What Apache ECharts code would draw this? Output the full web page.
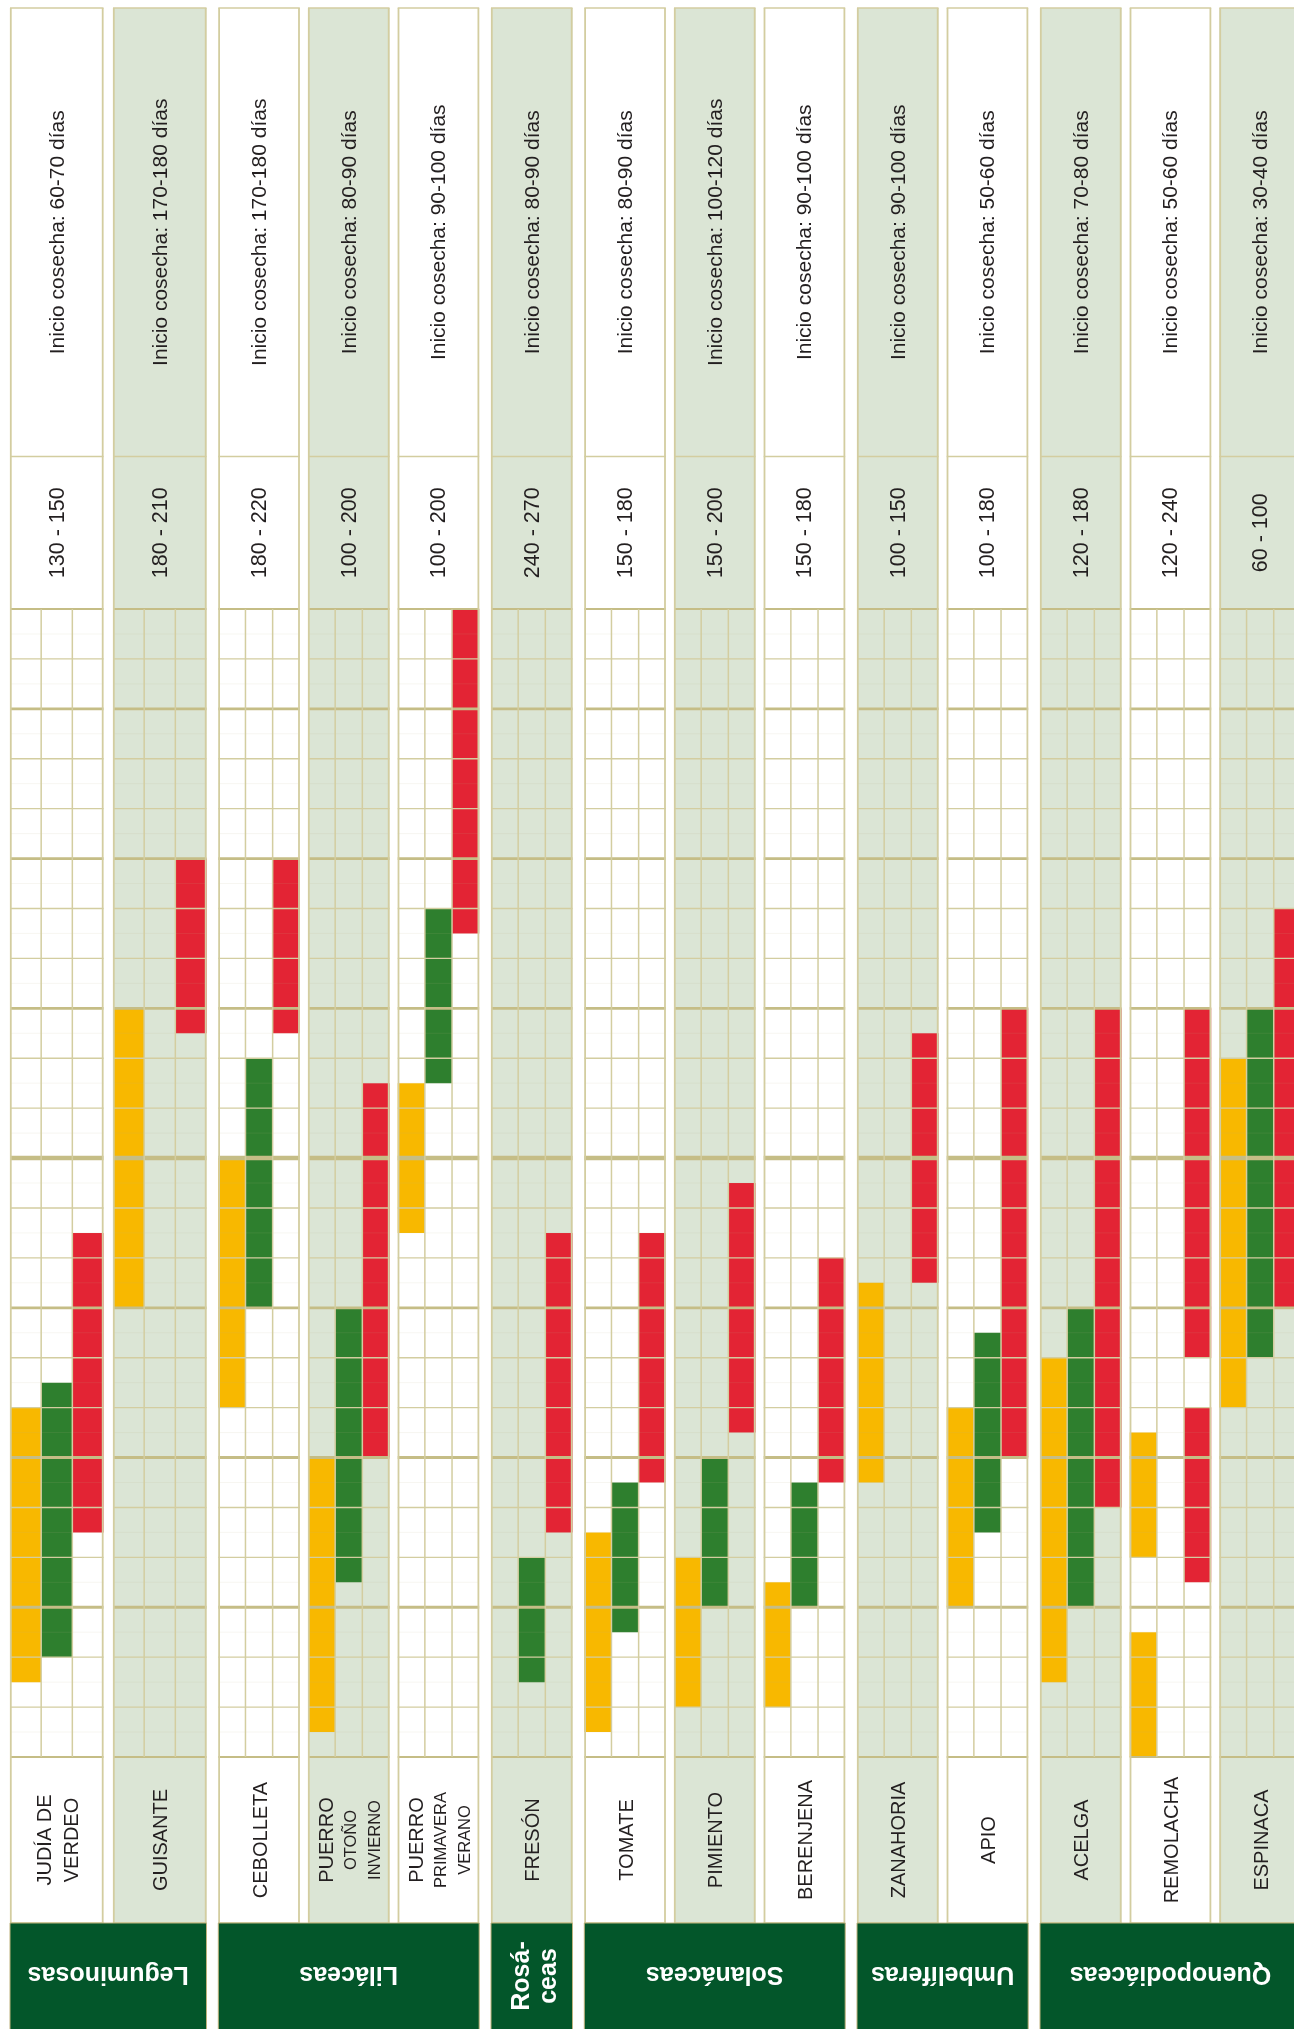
<!DOCTYPE html>
<html><head><meta charset="utf-8">
<script src="https://cdn.jsdelivr.net/npm/echarts@6/dist/echarts.min.js"></script>
<style>html,body{margin:0;padding:0;background:#fff}#c{width:1294px;height:2029px}</style>
</head><body><div id="c"></div>
<script>
// ---------- DATA ----------
const crops = ['JUDÍA DE\nVERDEO','GUISANTE','CEBOLLETA','PUERRO','PUERRO','FRESÓN','TOMATE','PIMIENTO','BERENJENA','ZANAHORIA','APIO','ACELGA','REMOLACHA','ESPINACA'];
const cropSubLines = ['','','','OTOÑO\nINVIERNO','PRIMAVERA\nVERANO','','','','','','','','',''];
const families = ['Leguminosas','Liláceas','Rosá-\nceas','Solanáceas','Umbelíferas','Quenopodiáceas'];
const cropFamily = [0,0,1,1,1,2,3,3,3,4,4,5,5,5];
const cycleDays = ['130 - 150','180 - 210','180 - 220','100 - 200','100 - 200','240 - 270','150 - 180','150 - 200','150 - 180','100 - 150','100 - 180','120 - 180','120 - 240','60 - 100'];
const harvestStart = ['60-70','170-180','170-180','80-90','90-100','80-90','80-90','100-120','90-100','90-100','50-60','70-80','50-60','30-40'];
// time axis: rows (10-day periods) counted from the bottom of the grid; 23 rows
const timeRows = 23;
// [cropIndex, startRow, endRow]
const sowing = [[0,1.5,7],[1,9,15],[2,7,12],[3,0.5,6],[4,10.5,13.5],[6,0.5,4.5],[7,1,4],[8,1,3.5],[9,5.5,9.5],[10,3,7],[11,1.5,8],[12,4,6.5],[12,0,2.5],[13,7,14]];
const transplant = [[0,2,7.5],[2,9,14],[3,3.5,9],[4,13.5,17],[5,1.5,4],[6,2.5,5.5],[7,3,6],[8,3,5.5],[10,4.5,8.5],[11,3,9],[13,8,15]];
const harvest = [[0,4.5,10.5],[1,14.5,18],[2,14.5,18],[3,6,13.5],[4,16.5,23],[5,4.5,10.5],[6,5.5,10.5],[7,6.5,11.5],[8,5.5,10],[9,9.5,14.5],[10,6,15],[11,5,15],[12,8,15],[12,3.5,7],[13,9,17]];

// ---------- LAYOUT / STYLE ----------
const W_LEG = 93.5, W_STD = 81.5, GAP_LEG = 9.5, GAP_IN = 8.2, GAP_FAM = 11.8, X0 = 10;
const cols = [];
(function(){ let x = X0; for (let i=0;i<crops.length;i++){ const w = cropFamily[i]===0?W_LEG:W_STD; cols.push([x,w]);
  if (i<crops.length-1){ x += w + (cropFamily[i+1]===cropFamily[i] ? (cropFamily[i]===0?GAP_LEG:GAP_IN) : GAP_FAM); } } })();
const HEAD_TOP = 8, DUR_TOP = 456.5, NAME_BOTTOM = 1923, FAM_BOTTOM = 2040;
const BG = ['#ffffff','#dbe5d5'];
const LINE = '#d3cda0', LINE_DARK = '#c5bd86', TXT = '#231f20', DARKG = '#03562a';
const FONT = '"Liberation Sans", Arial, sans-serif';

// use a narrow face for the upper-case crop names when it is installed
function hasFont(name){
  const c = document.createElement('canvas').getContext('2d');
  const s = 'GUISANTE REMOLACHA mmmiii';
  c.font = '40px monospace'; const a = c.measureText(s).width;
  c.font = '40px "'+name+'", monospace'; const b = c.measureText(s).width;
  return Math.abs(a-b) > 1;
}
const NARROW = hasFont('Liberation Sans Narrow');
const NAME_FONT = NARROW ? '"Liberation Sans Narrow", sans-serif' : FONT;
const NAME_SIZE = NARROW ? 23.5 : 20, SUB_SIZE = NARROW ? 19.5 : 16.5;

const chart = echarts.init(document.getElementById('c'), null, {renderer:'canvas', width:1294, height:2029});

function xPix(api, x){ return api.coord([x, 0])[0]; }

function bgItem(params, api){
  const i = api.value(0); const [lx,w] = cols[i];
  const x1 = xPix(api,lx), x2 = xPix(api,lx+w);
  return {type:'rect', shape:{x:x1, y:HEAD_TOP, width:x2-x1, height:NAME_BOTTOM-HEAD_TOP}, style:{fill:BG[i%2]}};
}

function barMaker(sub, color){
  return function(params, api){
    const i = api.value(0), s = api.value(1), e = api.value(2);
    const [lx,w] = cols[i];
    const p1 = api.coord([lx + sub*w/3, e]);
    const p2 = api.coord([lx + (sub+1)*w/3, s]);
    return {type:'rect', shape:{x:p1[0], y:p1[1], width:p2[0]-p1[0], height:p2[1]-p1[1]}, style:{fill:color}};
  };
}

function gridItem(params, api){
  const i = api.value(0); const [lx,w] = cols[i];
  const x1 = xPix(api,lx), x2 = xPix(api,lx+w);
  const yTop = api.coord([lx, timeRows])[1], yBot = api.coord([lx, 0])[1];
  const ch = [];
  for (let r=0;r<timeRows;r++){
    const y = api.coord([lx, r+0.5])[1];
    ch.push({type:'line', shape:{x1:x1,y1:y,x2:x2,y2:y}, style:{stroke:'rgba(190,184,140,0.12)', lineWidth:1}});
  }
  for (let r=0;r<=timeRows;r++){
    const y = api.coord([lx, r])[1];
    let lw = 1.4, c = LINE;
    if (r%3===0 && r>0 && r<timeRows){ lw = 2.8; c = LINE_DARK; }
    if (r===12){ lw = 4.5; }
    if (r===0 || r===timeRows){ lw = 2.2; c = LINE_DARK; }
    ch.push({type:'line', shape:{x1:x1,y1:y,x2:x2,y2:y}, style:{stroke:c, lineWidth:lw}});
  }
  for (let k=1;k<3;k++){
    const x = xPix(api, lx + k*w/3);
    ch.push({type:'line', shape:{x1:x,y1:yTop,x2:x,y2:yBot}, style:{stroke:LINE, lineWidth:1.5}});
  }
  [HEAD_TOP, DUR_TOP, NAME_BOTTOM].forEach(y=>ch.push({type:'line', shape:{x1:x1,y1:y,x2:x2,y2:y}, style:{stroke:LINE, lineWidth:1.6}}));
  ch.push({type:'line', shape:{x1:x1+0.8,y1:HEAD_TOP,x2:x1+0.8,y2:NAME_BOTTOM}, style:{stroke:LINE, lineWidth:1.8}});
  ch.push({type:'line', shape:{x1:x2-0.8,y1:HEAD_TOP,x2:x2-0.8,y2:NAME_BOTTOM}, style:{stroke:LINE, lineWidth:1.8}});
  return {type:'group', children:ch};
}

function textItem(params, api){
  const i = api.value(0); const [lx,w] = cols[i];
  const cx = xPix(api, lx + w/2);
  const yTop = api.coord([lx, timeRows])[1], yBot = api.coord([lx, 0])[1];
  const ch = [];
  ch.push({type:'text', x:cx+1, y:(HEAD_TOP+DUR_TOP)/2, rotation:Math.PI/2,
    style:{text:'Inicio cosecha: '+harvestStart[i]+' días', fill:TXT, font:'21px '+FONT, align:'center', verticalAlign:'middle'}});
  ch.push({type:'text', x:cx+1, y:(DUR_TOP+yTop)/2, rotation:Math.PI/2,
    style:{text:cycleDays[i], fill:TXT, font:'21.5px '+FONT, align:'center', verticalAlign:'middle'}});
  const nameY = (yBot+NAME_BOTTOM)/2;
  if (cropSubLines[i]){
    const parts = cropSubLines[i].split('\n');
    const txt = '{a|'+crops[i]+'}\n' + parts.map(p=>'{b|'+p+'}').join('\n');
    ch.push({type:'text', x:cx+3, y:nameY, rotation:Math.PI/2,
      style:{text:txt, fill:TXT, align:'center', verticalAlign:'middle',
        rich:{a:{fontSize:NAME_SIZE, fontFamily:NAME_FONT, lineHeight:24, fill:TXT, align:'center'}, b:{fontSize:SUB_SIZE, fontFamily:NAME_FONT, lineHeight:24, fill:TXT, align:'center'}}}});
  } else {
    ch.push({type:'text', x:cx+2, y:nameY, rotation:Math.PI/2,
      style:{text:crops[i], fill:TXT, font:NAME_SIZE+'px '+NAME_FONT, lineHeight:27, align:'center', verticalAlign:'middle'}});
  }
  return {type:'group', children:ch};
}

const famData = families.map((f,k)=>{ const idx = cropFamily.map((v,i)=>v===k?i:-1).filter(v=>v>=0); return [k, idx[0], idx[idx.length-1]]; });
function famItem(params, api){
  const k = api.value(0), a = api.value(1), b = api.value(2);
  const x1 = xPix(api, cols[a][0]), x2 = xPix(api, cols[b][0]+cols[b][1]);
  const rot = families[k].indexOf('\n')>=0;
  return {type:'group', children:[
    {type:'rect', shape:{x:x1, y:NAME_BOTTOM, width:x2-x1, height:FAM_BOTTOM-NAME_BOTTOM}, style:{fill:DARKG, stroke:'#bfb27c', lineWidth:1}},
    {type:'text', x:(x1+x2)/2 + (rot?4:0), y:(NAME_BOTTOM+2029)/2 + (rot?0:-2), rotation: rot?Math.PI/2:Math.PI,
      style:{text:families[k], fill:'#ffffff', font:'bold 25px '+FONT, lineHeight:27, align:'center', verticalAlign:'middle'}}
  ]};
}

const cropIdx = crops.map((c,i)=>[i]);
chart.setOption({
  animation:false,
  grid:{left:0, right:0, top:609, bottom:272},
  xAxis:{type:'value', min:0, max:1294, show:false},
  yAxis:{type:'value', min:0, max:timeRows, interval:1, show:false},
  series:[
    {type:'custom', name:'fondo', renderItem:bgItem, data:cropIdx, z:1, clip:false, silent:true},
    {type:'custom', name:'Siembra', renderItem:barMaker(0,'#f8b800'), data:sowing, z:2, clip:false},
    {type:'custom', name:'Trasplante', renderItem:barMaker(1,'#2e7f2e'), data:transplant, z:2, clip:false},
    {type:'custom', name:'Cosecha', renderItem:barMaker(2,'#e32434'), data:harvest, z:2, clip:false},
    {type:'custom', name:'rejilla', renderItem:gridItem, data:cropIdx, z:3, clip:false, silent:true},
    {type:'custom', name:'textos', renderItem:textItem, data:cropIdx, z:4, clip:false, silent:true},
    {type:'custom', name:'familias', renderItem:famItem, data:famData, z:4, clip:false, silent:true}
  ]
});
</script></body></html>
